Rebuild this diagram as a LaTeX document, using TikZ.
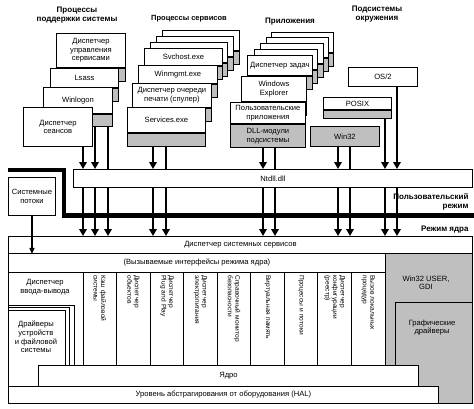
\documentclass[tikz,border=0pt]{standalone}
\usepackage{fontspec}
\setmainfont{Liberation Sans}
\usetikzlibrary{arrows.meta,positioning}

\tikzset{
  box/.style={draw,fill=white,line width=0.9pt,inner sep=1pt,align=center,anchor=north west},
  band/.style={draw,fill=gray!50,line width=0.9pt,inner sep=0pt,minimum height=13pt,align=center,below=0pt of #1},
  col/.style={draw,fill=white,line width=0.9pt,rotate=-90,minimum width=93pt,minimum height=33.6pt,
    text width=86pt,inner sep=0pt,align=left,font=\fontsize{6.6}{7.6}\selectfont},
  grptitle/.style={font=\fontsize{8}{9.5}\selectfont\bfseries,align=center},
  flow/.style={-{Triangle[length=7pt,width=7.5pt]}},
}

\begin{document}
\begin{tikzpicture}[x=1pt,y=-1pt,font=\fontsize{7.6}{8.6}\selectfont]
\useasboundingbox (0,0) rectangle (474,408);

% group titles
\node[grptitle] (t-sup) at (77,15) {Процессы\\поддержки системы};
\node[grptitle,font=\fontsize{7.5}{9}\selectfont\bfseries] (t-svc) at (189,19) {Процессы сервисов};
\node[grptitle] (t-app) at (290,22) {Приложения};
\node[grptitle] (t-env) at (377,14) {Подсистемы\\окружения};

% support processes
\node[box,minimum width=69pt,minimum height=34pt] (scm) at (56,33) {Диспетчер\\управления\\сервисами};
\node[band=scm,minimum width=69pt] (scm-b) {};
\node[box,minimum width=68pt,minimum height=19pt] (lsass) at (50,68) {Lsass};
\node[band=lsass,minimum width=68pt] (lsass-b) {};
\node[box,minimum width=69pt,minimum height=26pt] (winlogon) at (43,87) {Winlogon};
\node[band=winlogon,minimum width=69pt,minimum height=12pt] (winlogon-b) {};
\node[box,minimum width=69pt,minimum height=39pt] (smss) at (23,107) {Диспетчер\\сеансов};

% service processes
\node[box,minimum width=77pt,minimum height=20pt] (svc5) at (162,30) {};
\node[band=svc5,minimum width=77pt] (svc5-b) {};
\node[box,minimum width=77pt,minimum height=20pt] (svc4) at (156,36) {};
\node[band=svc4,minimum width=77pt] (svc4-b) {};
\node[box,minimum width=77pt,minimum height=20pt] (svc3) at (150,42) {};
\node[band=svc3,minimum width=77pt] (svc3-b) {};
\node[box,minimum width=78pt,minimum height=17pt] (svchost) at (144,48) {Svchost.exe};
\node[band=svchost,minimum width=78pt] (svchost-b) {};
\node[box,minimum width=79pt,minimum height=18pt] (winmgmt) at (138,65) {Winmgmt.exe};
\node[band=winmgmt,minimum width=79pt] (winmgmt-b) {};
\node[box,minimum width=79pt,minimum height=24pt] (spooler) at (132,83) {Диспетчер очереди\\печати (спулер)};
\node[band=spooler,minimum width=79pt] (spooler-b) {};
\node[box,minimum width=78pt,minimum height=25pt] (services) at (127,107) {Services.exe};
\node[band=services,minimum width=78pt] (services-b) {};

% applications
\node[box,minimum width=62pt,minimum height=20pt] (app6) at (271,32) {};
\node[band=app6,minimum width=62pt] (app6-b) {};
\node[box,minimum width=62pt,minimum height=20pt] (app5) at (266,37) {};
\node[band=app5,minimum width=62pt] (app5-b) {};
\node[box,minimum width=63pt,minimum height=20pt] (app4) at (260,43) {};
\node[band=app4,minimum width=63pt] (app4-b) {};
\node[box,minimum width=63pt,minimum height=20pt] (app3) at (254,49) {};
\node[band=app3,minimum width=63pt] (app3-b) {};
\node[box,minimum width=65pt,minimum height=20pt] (taskmgr) at (247,55) {Диспетчер задач};
\node[band=taskmgr,minimum width=65pt] (taskmgr-b) {};
\node[box,minimum width=65pt,minimum height=25pt] (explorer) at (241,76) {Windows\\Explorer};
\node[band=explorer,minimum width=65pt] (explorer-b) {};
\node[box,minimum width=75pt,minimum height=21pt] (userapps) at (230,102) {Пользовательские\\приложения};
\node[band=userapps,minimum width=75pt,minimum height=23pt] (dll) {DLL-модули\\подсистемы};

% environment subsystems
\node[box,minimum width=69pt,minimum height=19pt] (os2) at (348,67) {OS/2};
\node[box,minimum width=68pt,minimum height=12pt] (posix) at (323,97) {POSIX};
\node[band=posix,minimum width=68pt,minimum height=8pt] (posix-b) {};
\node[box,fill=gray!50,minimum width=69pt,minimum height=20pt] (win32) at (310,126) {Win32};

% user / kernel boundary
\node[box,minimum width=399pt,minimum height=18pt] (ntdll) at (73,169) {Ntdll.dll};
\node[box,minimum width=47pt,minimum height=38pt] (systhr) at (8,177) {Системные\\потоки};
\draw[line width=4.5pt] (8,170) -| (64,215.5) -- (474,215.5);
\node[grptitle,anchor=east,align=right] (umode) at (472,202) {Пользовательский\\режим};
\node[grptitle,anchor=east] (kmode) at (472,230) {Режим ядра};

% executive
\draw[line width=0.9pt,fill=white] (8,236) rectangle (472,403);
\node[box,minimum width=464pt,minimum height=17pt] (ssd) at (8,236) {Диспетчер системных сервисов};
\node[box,minimum width=377pt,minimum height=19pt] (kapi) at (8,253) {(Вызываемые интерфейсы режима ядра)};
\node[box,fill=gray!50,minimum width=87pt,minimum height=150pt] (usergdi) at (385,253) {};
\node[anchor=north,align=center] (usergdi-t) at (426,272) {Win32 USER,\\GDI};
\node[box,fill=gray!50,minimum width=77pt,minimum height=101pt] (gfx) at (395,302) {};
\node[anchor=north,align=center] (gfx-t) at (432,316) {Графические\\драйверы};

\node[anchor=north,align=center] (io) at (45,276) {Диспетчер\\ввода-вывода};
\draw[line width=0.9pt] (8,305) -| (74,365) (8,307.5) -| (69,365);
\draw[line width=0.9pt] (8,310) -| (65,365);
\node[align=center] (drv) at (36,337) {Драйверы\\устройств\\и файловой\\системы};

\node[col] (cache) at (99.8,318.5) {Кэш файловой\\системы};
\node[col] (objmgr) at (133.3,318.5) {Диспетчер\\объектов};
\node[col] (pnp) at (166.9,318.5) {Диспетчер\\Plug and Play};
\node[col] (power) at (200.4,318.5) {Диспетчер\\электропитания};
\node[col] (srm) at (234,318.5) {Справочный монитор\\безопасности};
\node[col] (vmm) at (267.6,318.5) {Виртуальная память};
\node[col] (ps) at (301.1,318.5) {Процессы и потоки};
\node[col] (cfg) at (334.7,318.5) {Диспетчер\\конфигурации\\(реестр)};
\node[col] (lpc) at (368.2,318.5) {Вызов локальных\\процедур};

\node[box,minimum width=380pt,minimum height=21pt] (kernel) at (38,365) {Ядро};
\node[box,minimum width=430pt,minimum height=17pt] (hal) at (8,386) {Уровень абстрагирования от оборудования (HAL)};

% calls into ntdll
\begin{scope}[every edge/.style={draw,line width=2.6pt}]
  \path[flow] (smss.south -| 83,0) edge (ntdll.north -| 83,0);
  \path[flow] (winlogon-b.south -| 95,0) edge (ntdll.north -| 95,0);
  \path (winlogon-b.south -| 108,0) edge (ntdll.north -| 108,0);
  \path[flow] (services-b.south -| 153,0) edge (ntdll.north -| 153,0);
  \path (services-b.south -| 166,0) edge (ntdll.north -| 166,0);
  \path[flow] (dll.south -| 263,0) edge (ntdll.north -| 263,0);
  \path (dll.south -| 275,0) edge (ntdll.north -| 275,0);
  \path[flow] (win32.south -| 338,0) edge (ntdll.north -| 338,0);
  \path (win32.south -| 350,0) edge (ntdll.north -| 350,0);
  \path[flow] (posix-b.south -| 385,0) edge (ntdll.north -| 385,0);
  \path[flow] (os2.south -| 397,0) edge (ntdll.north -| 397,0);
\end{scope}

% calls into the kernel
\begin{scope}[every edge/.style={draw,line width=2.6pt}]
  \path[flow] (ntdll.south -| 83,0) edge (ssd.north -| 83,0);
  \path[flow] (ntdll.south -| 95,0) edge (ssd.north -| 95,0);
  \path[flow] (ntdll.south -| 108,0) edge (ssd.north -| 108,0);
  \path[flow] (ntdll.south -| 153,0) edge (ssd.north -| 153,0);
  \path[flow] (ntdll.south -| 166,0) edge (ssd.north -| 166,0);
  \path[flow] (ntdll.south -| 263,0) edge (ssd.north -| 263,0);
  \path[flow] (ntdll.south -| 275,0) edge (ssd.north -| 275,0);
  \path[flow] (ntdll.south -| 338,0) edge (ssd.north -| 338,0);
  \path[flow] (ntdll.south -| 350,0) edge (ssd.north -| 350,0);
  \path[flow] (ntdll.south -| 385,0) edge (ssd.north -| 385,0);
  \path[flow] (ntdll.south -| 397,0) edge (ssd.north -| 397,0);
\end{scope}

\path[-{Triangle[length=6pt,width=5pt]}] (systhr.south) edge[draw,line width=1.2pt] (ssd.south -| systhr.south);
\end{tikzpicture}
\end{document}
